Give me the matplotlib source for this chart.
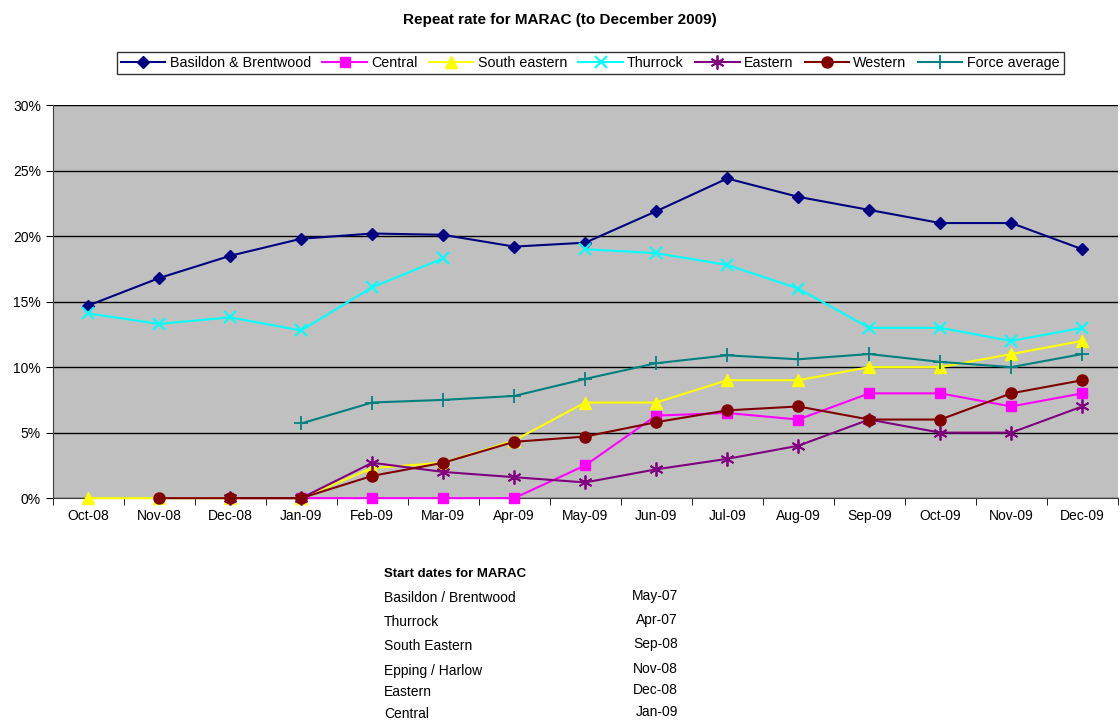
import numpy as np
import matplotlib.pyplot as plt
from matplotlib.ticker import PercentFormatter

plt.rcParams['font.family'] = ['Liberation Sans', 'DejaVu Sans']

months = ["Oct-08", "Nov-08", "Dec-08", "Jan-09", "Feb-09", "Mar-09", "Apr-09", "May-09",
          "Jun-09", "Jul-09", "Aug-09", "Sep-09", "Oct-09", "Nov-09", "Dec-09"]
nan = np.nan

basildon = [14.7, 16.8, 18.5, 19.8, 20.2, 20.1, 19.2, 19.5, 21.9, 24.4, 23.0, 22.0, 21.0, 21.0, 19.0]
central = [nan, nan, nan, 0, 0, 0, 0, 2.5, 6.3, 6.5, 6.0, 8.0, 8.0, 7.0, 8.0]
south_eastern = [0, 0, 0, 0, 2.3, 2.7, 4.4, 7.3, 7.3, 9.0, 9.0, 10.0, 10.0, 11.0, 12.0]
thurrock = [14.1, 13.3, 13.8, 12.8, 16.1, 18.3, nan, 19.0, 18.7, 17.8, 16.0, 13.0, 13.0, 12.0, 13.0]
eastern = [nan, nan, 0, 0, 2.7, 2.0, 1.6, 1.2, 2.2, 3.0, 4.0, 6.0, 5.0, 5.0, 7.0]
western = [nan, 0, 0, 0, 1.7, 2.7, 4.3, 4.7, 5.8, 6.7, 7.0, 6.0, 6.0, 8.0, 9.0]
force_avg = [nan, nan, nan, 5.7, 7.3, 7.5, 7.8, 9.1, 10.3, 10.9, 10.6, 11.0, 10.4, 10.0, 11.0]

start_names = ["Basildon / Brentwood", "Thurrock", "South Eastern", "Epping / Harlow", "Eastern", "Central"]
start_dates = ["May-07", "Apr-07", "Sep-08", "Nov-08", "Dec-08", "Jan-09"]

fig = plt.figure(figsize=(11.2, 7.23), dpi=100)
ax = fig.add_axes([0.047, 0.311, 0.951, 0.5436])
ax.set_facecolor('#c0c0c0')

x = np.arange(len(months))
series = [
    ("Basildon & Brentwood", basildon, '#000080', dict(marker='D', markersize=6.5)),
    ("Central", central, '#ff00ff', dict(marker='s', markersize=7.5)),
    ("South eastern", south_eastern, '#ffff00', dict(marker='^', markersize=8.5)),
    ("Thurrock", thurrock, '#00ffff', dict(marker='x', markersize=8.5, markeredgewidth=1.5)),
    ("Eastern", eastern, '#800080', dict(marker=(6, 2, 0), markersize=10, markeredgewidth=1.3)),
    ("Western", western, '#800000', dict(marker='o', markersize=8)),
    ("Force average", force_avg, '#008080', dict(marker='+', markersize=10, markeredgewidth=1.3)),
]
for name, vals, col, mk in series:
    ax.plot(x, vals, color=col, lw=1.5, label=name, markerfacecolor=col, markeredgecolor=col,
            clip_on=False, zorder=3, **mk)

ax.set_xlim(-0.5, len(months) - 0.5)
ax.set_ylim(0, 30)
ax.set_yticks(np.arange(0, 31, 5))
ax.yaxis.set_major_formatter(PercentFormatter(decimals=0))
ax.set_xticks(x)
ax.set_xticklabels(months)
ax.set_xticks(np.arange(-0.5, len(months), 1), minor=True)
ax.tick_params(axis='x', which='major', length=0, labelsize=10, pad=8)
ax.tick_params(axis='x', which='minor', length=5, direction='out')
ax.tick_params(axis='y', labelsize=10, length=5)
ax.grid(axis='y', color='black', lw=1)
ax.set_axisbelow(True)
for s in ['top', 'right']:
    ax.spines[s].set_visible(False)
ax.spines['left'].set_color('#404040')
ax.spines['bottom'].set_color('#404040')

fig.text(0.5, 0.973, "Repeat rate for MARAC (to December 2009)", ha='center', va='center',
         fontsize=11, fontweight='bold')

fig.legend(loc='center', bbox_to_anchor=(0.527, 0.913), ncol=7, fontsize=10.3, frameon=True,
           fancybox=False, edgecolor='black', handlelength=3.1, handletextpad=0.3,
           columnspacing=0.8, borderpad=0.3)

fig.text(384 / 1120, 1 - 574 / 723, "Start dates for MARAC", fontsize=9.5, fontweight='bold', va='center')
ys = [598, 622, 646, 671, 692, 714]
for name, date, yy in zip(start_names, start_dates, ys):
    fig.text(384 / 1120, 1 - yy / 723, name, fontsize=10, va='center')
    fig.text(678 / 1120, 1 - (yy - 2) / 723, date, fontsize=10, va='center', ha='right')

fig.savefig("out.png", dpi=100)
